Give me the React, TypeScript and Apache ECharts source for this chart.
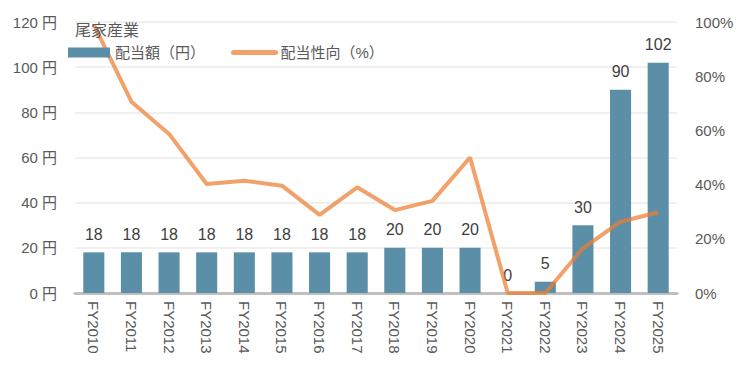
import React, { useEffect, useRef } from "react";
import * as echarts from "echarts";

const categories = ["FY2010","FY2011","FY2012","FY2013","FY2014","FY2015","FY2016","FY2017","FY2018","FY2019","FY2020","FY2021","FY2022","FY2023","FY2024","FY2025"];
const dividend = [18,18,18,18,18,18,18,18,20,20,20,0,5,30,90,102];
const payoutRatio = [99,70.6,58.7,40.2,41.4,39.6,28.8,39,30.6,34,50,0,0,16.5,26.3,29.8];
const leftTicks = { min: 0, max: 120, interval: 20 };
const rightTicks = { min: 0, max: 100, interval: 20 };

const FONT = "'Liberation Sans', 'Noto Sans CJK JP', sans-serif";

export default function App() {
  const ref = useRef<HTMLDivElement>(null);
  useEffect(() => {
    const chart = echarts.init(ref.current!, null, { renderer: "svg" });
    chart.setOption({
      animation: false,
      textStyle: { fontFamily: FONT },
      title: {
        text: "尾家産業",
        left: 70,
        top: 17,
        textStyle: { fontSize: 16, fontWeight: "normal", color: "#595959", fontFamily: FONT },
      },
      legend: {
        left: 63,
        top: 40,
        itemWidth: 42,
        itemHeight: 10,
        itemGap: 26,
        textStyle: { fontSize: 15, color: "#595959", fontFamily: FONT },
        data: [
          { name: "配当額（円）", icon: "rect" },
          { name: "配当性向（%）", itemStyle: { opacity: 0 }, lineStyle: { width: 5, cap: "round" } },
        ],
      },
      grid: { left: 75, right: 73, top: 22, bottom: 84 },
      xAxis: {
        type: "category",
        data: categories,
        axisLine: { lineStyle: { color: "#BFBFBF", width: 3 } },
        axisTick: { show: false },
        axisLabel: { rotate: -90, fontSize: 15, color: "#595959", margin: 8, fontFamily: FONT },
      },
      yAxis: [
        {
          type: "value",
          ...leftTicks,
          axisLabel: { formatter: "{value} 円", fontSize: 15, color: "#595959", margin: 18, fontFamily: FONT },
          splitLine: { lineStyle: { color: "#F0F0F0", width: 2 } },
          axisLine: { show: false },
          axisTick: { show: false },
        },
        {
          type: "value",
          ...rightTicks,
          axisLabel: { formatter: "{value}%", fontSize: 15, color: "#595959", margin: 18, fontFamily: FONT },
          splitLine: { show: false },
          axisLine: { show: false },
          axisTick: { show: false },
        },
      ],
      series: [
        {
          name: "配当額（円）",
          type: "bar",
          data: dividend,
          barWidth: "56%",
          itemStyle: { color: "#5B8FA8" },
          label: { show: true, position: "top", distance: 10, fontSize: 16, color: "#404040", fontFamily: FONT },
          z: 2,
        },
        {
          name: "配当性向（%）",
          type: "line",
          yAxisIndex: 1,
          data: payoutRatio,
          symbol: "none",
          lineStyle: { color: "#ED7D31", width: 4, opacity: 0.72 },
          itemStyle: { color: "#F2A070" },
          z: 3,
        },
      ],
    });
    return () => chart.dispose();
  }, []);
  return <div ref={ref} style={{ position: "absolute", left: 0, top: 0, width: 750, height: 377 }} />;
}
